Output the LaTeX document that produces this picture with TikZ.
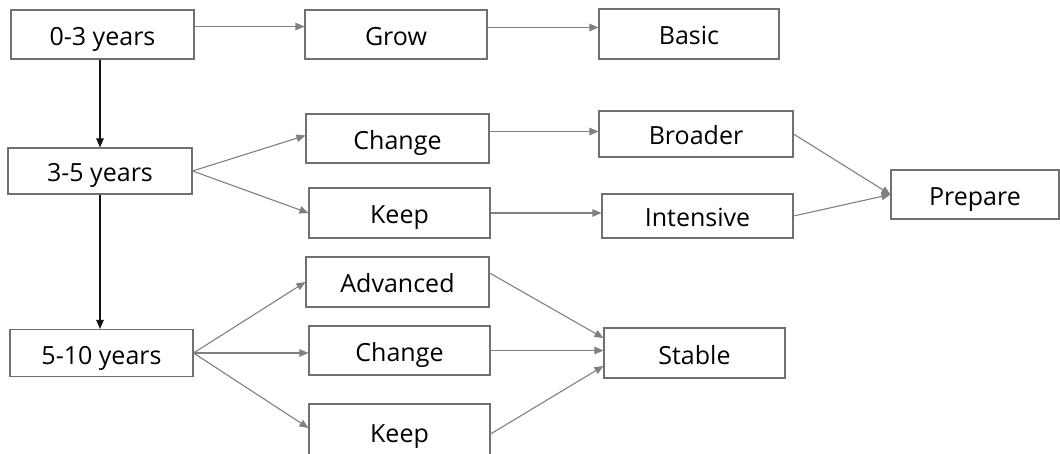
\documentclass[tikz,border=0pt]{standalone}
\usepackage{fontspec}
\setmainfont{Open Sans}
\usepackage{tikz}
\usetikzlibrary{arrows.meta,calc}
\definecolor{boxgrey}{RGB}{112,112,112}
\definecolor{linegrey}{RGB}{128,128,128}
\definecolor{inkblack}{RGB}{20,20,20}
\tikzset{
  base/.style={font=\fontsize{25}{29}\selectfont, align=center, inner sep=0pt, text=black, text height=24pt, text depth=2pt},
  box/.style={base, rectangle, draw=boxgrey, fill=white, line width=1.1pt, minimum height=48pt, minimum width=182pt},
  arr/.style={-{Triangle[length=9pt,width=7.5pt]}, line width=1.1pt, draw=linegrey},
  arrk/.style={arr, draw=inkblack},
}
\begin{document}
\begin{tikzpicture}[x=1pt,y=-1pt]
  \useasboundingbox (0,0) rectangle (1060,454);
  \clip (0,0) rectangle (1060,454);
  % stages
  \node[box,minimum width=183pt,minimum height=49pt] (y03)  at (102.5,34.5) {0-3 years};
  \node[box,minimum width=184pt,minimum height=46pt] (y35)  at (100,171)    {3-5 years};
  \node[box,minimum width=183pt,minimum height=47pt] (y510) at (101.5,353)  {5-10 years};
  % 0-3 years
  \node[box,minimum height=49pt] (grow)  at (396,34.5) {Grow};
  \node[box,minimum width=180pt,minimum height=50pt] (basic) at (689,34)   {Basic};
  % 3-5 years
  \node[box,minimum width=183pt,minimum height=49pt] (chga)  at (397.5,138.5) {Change};
  \node[box,minimum width=181pt,minimum height=50pt] (keepa) at (399.5,213)   {Keep};
  \node[box,minimum width=194pt,minimum height=46pt] (broader)   at (696,134)   {Broader};
  \node[box,minimum width=191pt,minimum height=44pt] (intensive) at (697.5,216) {Intensive};
  \node[box,minimum width=168pt,minimum height=49pt] (prepare)   at (975,194.5) {Prepare};
  % 5-10 years
  \node[box,minimum width=183pt,minimum height=50pt] (adv)    at (397.5,282)   {Advanced};
  \node[box,minimum width=181pt,minimum height=49pt] (chgb)   at (399.5,350.5) {Change};
  \node[box,minimum width=181pt,minimum height=54pt] (keepb)  at (399.5,431)   {Keep};
  \node[box,minimum width=181pt,minimum height=50pt] (stable) at (694.5,353)   {Stable};
  % down the years
  \draw[arrk] (y03.south -| y35.north) -- (y35.north);
  \draw[arrk] (y35.south) -- (y35.south |- y510.north);
  % 0-3 years
  \draw[arr] ([yshift=8pt]y03.east) -- ([yshift=8pt]y03.east -| grow.west);
  \draw[arr] ([yshift=7pt]grow.east) -- ([yshift=7pt]grow.east -| basic.west);
  % 3-5 years
  \draw[arr] (y35.east) -- ([yshift=3pt]chga.west);
  \draw[arr] (y35.east) -- (keepa.west);
  \draw[arr] ([yshift=7pt]chga.east) -- ([yshift=7pt]chga.east -| broader.west);
  \draw[arr] (keepa.east) -- (keepa.east -| intensive.west);
  \draw[arr] (broader.east) -- (prepare.west);
  \draw[arr] (intensive.east) -- (prepare.west);
  % 5-10 years
  \draw[arr] (y510.east) -- (adv.west);
  \draw[arr] (y510.east) -- (y510.east -| chgb.west);
  \draw[arr] (y510.east) -- ([yshift=3pt]keepb.west);
  \draw[arr] ([yshift=9pt]adv.east) -- ([yshift=15pt]stable.west);
  \draw[arr] (chgb.east) -- (chgb.east -| stable.west);
  \draw[arr] ([yshift=-3pt]keepb.east) -- ([yshift=-13pt]stable.west);
\end{tikzpicture}
\end{document}
